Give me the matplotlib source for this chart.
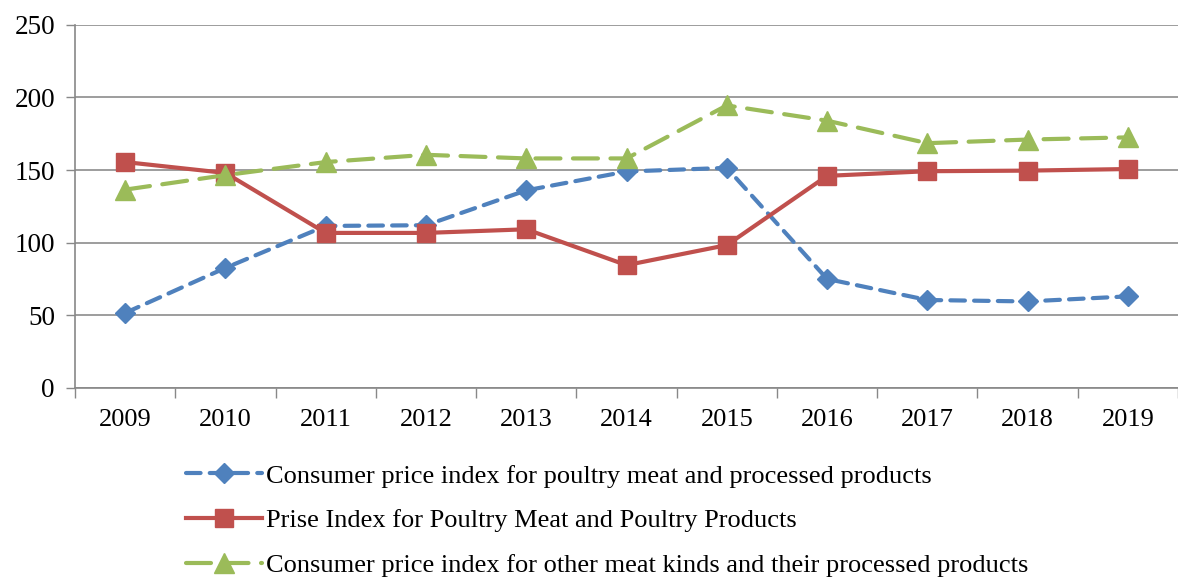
import matplotlib.pyplot as plt

plt.rcParams['font.family'] = ['Liberation Serif', 'DejaVu Serif']

years = ['2009', '2010', '2011', '2012', '2013', '2014', '2015', '2016', '2017', '2018', '2019']
cpi_poultry = [51.6, 82.6, 111.5, 112, 136, 149, 151.5, 75, 60.5, 59.5, 63]
price_poultry = [155.5, 148, 106.7, 106.7, 109.2, 84.5, 98.3, 146, 149.2, 149.6, 150.7]
cpi_other = [136.5, 146.5, 155.5, 160.5, 158, 158, 194.5, 184, 168.5, 171, 172.5]

labels = [
    'Consumer price index for poultry meat and processed products',
    'Prise Index for Poultry Meat and Poultry Products',
    'Consumer price index for other meat kinds and their processed products',
]

fig = plt.figure(figsize=(11.78, 5.78), dpi=100)
ax = fig.add_axes([0.0637, 0.329, 0.9363, 0.628])

x = list(range(len(years)))
ax.plot(x, cpi_poultry, color='#4F81BD', lw=3, ls=(0, (3.5, 2.2)), dash_capstyle='round',
        marker='D', ms=10, label=labels[0])
ax.plot(x, price_poultry, color='#C0504D', lw=3, marker='s', ms=13, label=labels[1])
ax.plot(x, cpi_other, color='#9BBB59', lw=3, ls=(0, (6, 3)), dash_capstyle='round',
        marker='^', ms=14, label=labels[2])

ax.set_xlim(-0.5, len(years) - 0.5)
ax.set_ylim(0, 250)
ax.set_yticks(range(0, 251, 50))
ax.set_xticks(x)
ax.set_xticklabels(years)
ax.set_xticks([i - 0.5 for i in range(len(years) + 1)], minor=True)
ax.tick_params(axis='x', which='major', length=0, labelsize=19, pad=15)
ax.tick_params(axis='x', which='minor', length=7, width=1, color='#888888')
ax.tick_params(axis='y', length=6.5, width=1, color='#888888', labelsize=19.5, pad=8)
ax.yaxis.grid(True, color='#8c8c8c', lw=1.2)
ax.set_axisbelow(True)
for s in ['top', 'right']:
    ax.spines[s].set_visible(False)
for s in ['left', 'bottom']:
    ax.spines[s].set_color('#888888')
    ax.spines[s].set_linewidth(1.2)

fig.legend(loc='upper left', bbox_to_anchor=(0.147, 0.22), frameon=False, fontsize=19,
           handlelength=2.85, handletextpad=0.15, labelspacing=0.81, borderpad=0)

fig.savefig('out.png', dpi=100)
